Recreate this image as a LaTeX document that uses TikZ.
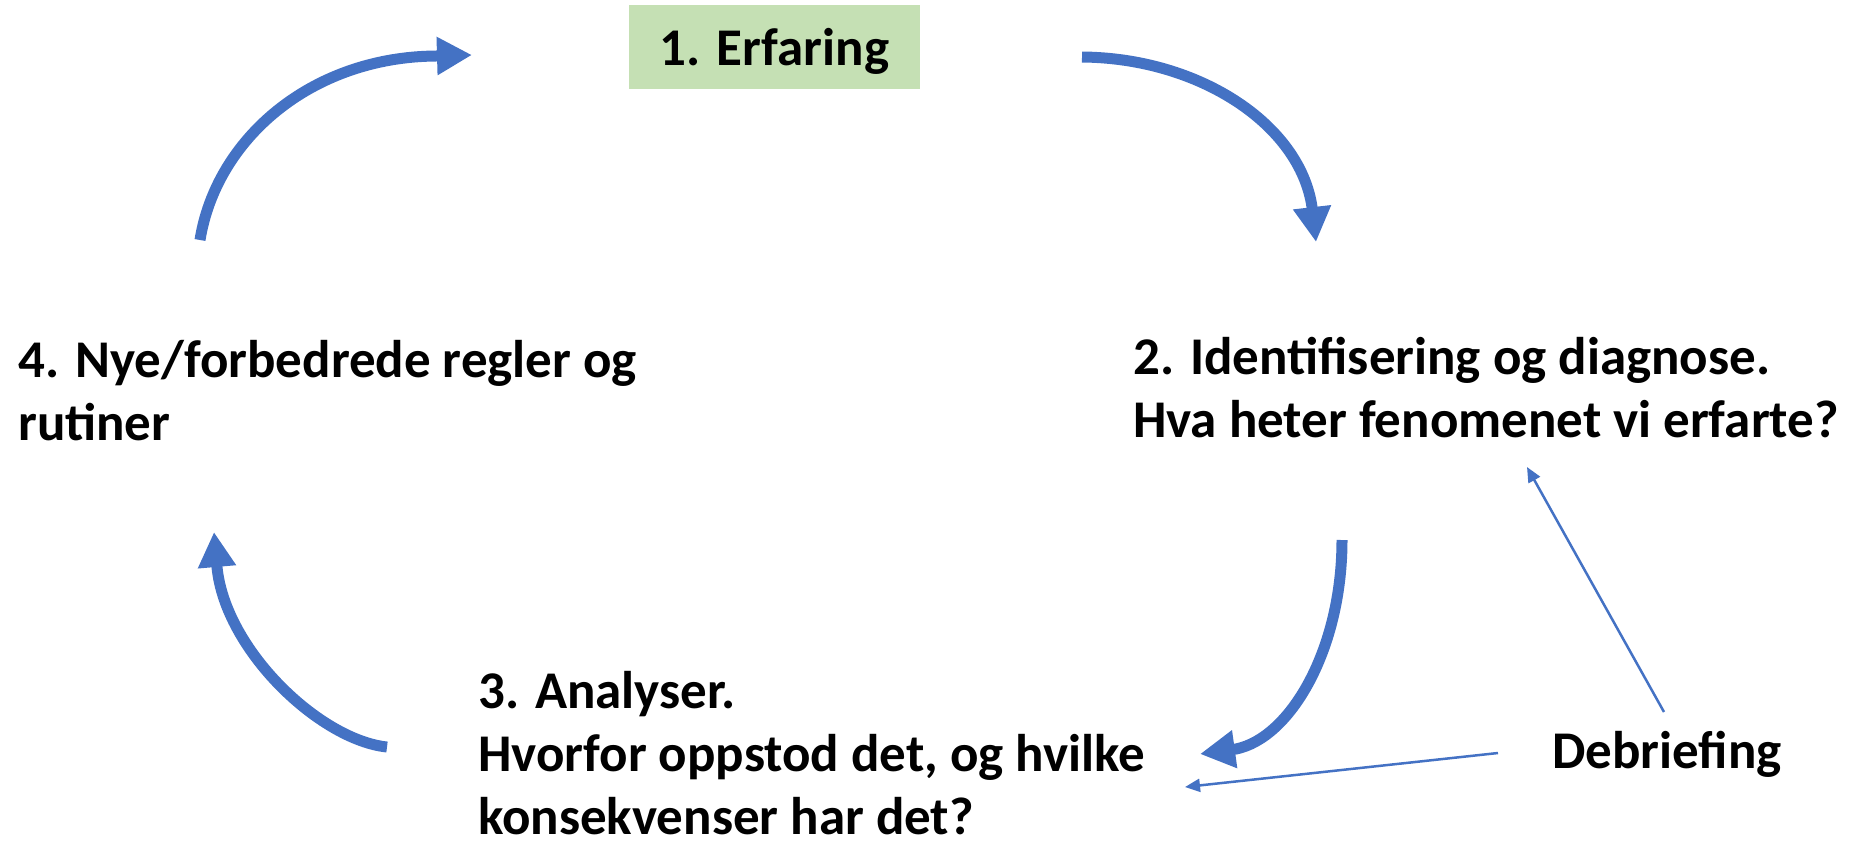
\documentclass[tikz,border=0pt]{standalone}
\usepackage{fontspec}
\setmainfont{Carlito}
\usetikzlibrary{arrows.meta}
\definecolor{cycblue}{HTML}{4472C4}
\definecolor{boxgreen}{HTML}{C5E0B4}
\begin{document}
\begin{tikzpicture}[x=1pt,y=-1pt,
  lbl/.style={font=\fontsize{53}{63}\selectfont\bfseries, inner sep=0pt, align=left, anchor=base west},
  cyc/.style={draw=cycblue, line width=11pt, -{Triangle[length=35pt,width=36pt]}},
  thinarr/.style={draw=cycblue, line width=2.5pt, -{Triangle[length=15pt,width=13pt]}}]
\useasboundingbox (0,0) rectangle (1862,841);
% nodes (the base anchor of a multi-line node is the baseline of its last line)
\node[font=\fontsize{53}{63}\selectfont\bfseries, fill=boxgreen, inner sep=0pt,
      minimum width=291pt, minimum height=84pt, text height=46pt, text depth=10pt]
      (erf) at (774.5,47) {1. Erfaring};
\node[lbl] (ident) at (1133,437) {2. Identifisering og diagnose.\\Hva heter fenomenet vi erfarte?};
\node[lbl] (anal) at (478,834) {3. Analyser.\\Hvorfor oppstod det, og hvilke\\konsekvenser har det?};
\node[lbl] (nye) at (18,440) {4. Nye/forbedrede regler og\\rutiner};
\node[lbl] (deb) at (1552,768) {Debriefing};
% coordinates for the cycle arrows
\coordinate (a0) at (200,240);
\coordinate (a1) at (436,56);
\coordinate (a2) at (472,55);
\coordinate (b0) at (1082,57);
\coordinate (b1) at (1312,207);
\coordinate (b2) at (1316,242);
\coordinate (c0) at (1342,540);
\coordinate (c1) at (1236,749);
\coordinate (c2) at (1200,754);
\coordinate (d0) at (387,747);
\coordinate (d1) at (217,567);
\coordinate (d2) at (214,532);
\coordinate (e0) at (1664,712);
\coordinate (e1) at (1527,467);
\coordinate (f0) at (1498,753);
\coordinate (f1) at (1185,787);
% cycle arrows
\draw[cyc] (a0) .. controls (216,140) and (310,57) .. (a1) -- (a2);
\draw[cyc] (b0) .. controls (1200,58) and (1300,125) .. (b1) -- (b2);
\draw[cyc] (c0) .. controls (1342,650) and (1290,738) .. (c1) -- (c2);
\draw[cyc] (d0) .. controls (320,740) and (225,650) .. (d1) -- (d2);
% debriefing arrows
\draw[thinarr] (e0) -- (e1);
\draw[thinarr] (f0) -- (f1);
\end{tikzpicture}
\end{document}
